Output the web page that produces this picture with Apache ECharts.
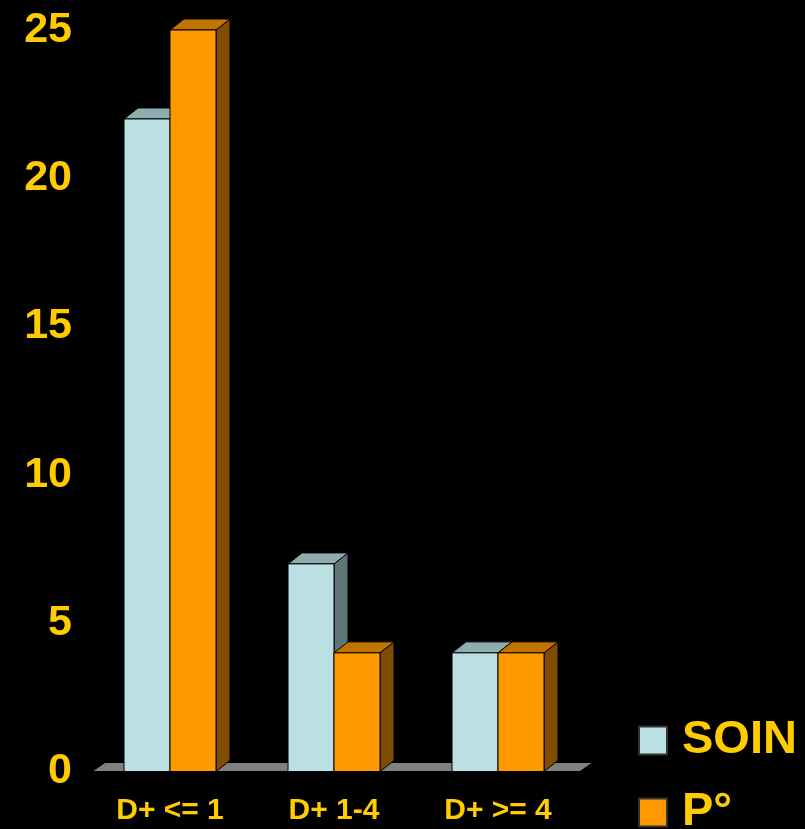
<!DOCTYPE html>
<html>
<head>
<meta charset="utf-8">
<script src="https://cdn.jsdelivr.net/npm/echarts@6/dist/echarts.min.js"></script>
<style>
  html, body { margin: 0; padding: 0; background: #000; }
  #chart { width: 805px; height: 829px; }
</style>
</head>
<body>
<div id="chart"></div>
<script>
// Category labels and values per series
const categories = ['D+ <= 1', 'D+ 1-4', 'D+ >= 4'];
const soinValues = [22, 7, 4];
const pValues = [25, 4, 4];
const seriesNames = ['SOIN', 'P°'];

const YELLOW = '#FFCC00';
const FONT = 'Liberation Sans, Arial, sans-serif';
const DEPTH_X = 14, DEPTH_Y = -11;
const BAR_FRACTION = 46 / 164;

// 3D bar: front face, top face and right side face
function bar3d(slot, colors) {
  return function (params, api) {
    const ci = api.value(0);
    const v = api.value(1);
    const base = api.coord([ci, 0]);
    const top = api.coord([ci, v]);
    const band = api.size([1, 0])[0];
    const w = band * BAR_FRACTION;
    const x0 = base[0] + (slot - 1) * w;
    const x1 = x0 + w;
    const yb = base[1];
    const yt = top[1];
    const stroke = { stroke: '#000', lineWidth: 1 };
    return {
      type: 'group',
      children: [
        { type: 'polygon', shape: { points: [[x1, yt], [x1 + DEPTH_X, yt + DEPTH_Y], [x1 + DEPTH_X, yb + DEPTH_Y], [x1, yb]] },
          style: Object.assign({ fill: colors.side }, stroke) },
        { type: 'polygon', shape: { points: [[x0, yt], [x0 + DEPTH_X, yt + DEPTH_Y], [x1 + DEPTH_X, yt + DEPTH_Y], [x1, yt]] },
          style: Object.assign({ fill: colors.top }, stroke) },
        { type: 'rect', shape: { x: x0, y: yt, width: w, height: yb - yt },
          style: Object.assign({ fill: colors.front }, stroke) }
      ]
    };
  };
}

// Grey floor under the bars
function floorItem(params, api) {
  const cs = params.coordSys;
  const y0 = api.coord([0, 0])[1];
  const xl = cs.x + 4, xr = cs.x + cs.width;
  return {
    type: 'polygon',
    shape: { points: [[xl, y0], [xr, y0], [xr + 13, y0 - 9], [xl + 13, y0 - 9]] },
    style: { fill: '#808080', stroke: '#000', lineWidth: 1 }
  };
}

const soinColors = { front: '#BBE0E3', top: '#8FACAE', side: '#5F7576' };
const pColors = { front: '#FF9900', top: '#C27400', side: '#7F4C00' };

// One legend box per series, stacked at the lower right
function legendBox(name, top) {
  return {
    data: [name],
    orient: 'vertical',
    left: 638,
    top: top,
    padding: 0,
    itemWidth: 28,
    itemHeight: 28,
    icon: 'rect',
    textStyle: { color: YELLOW, fontSize: 47, fontWeight: 'bold', fontFamily: FONT, lineHeight: 47, padding: [0, 0, 0, 10] },
    selectedMode: false
  };
}

const chart = echarts.init(document.getElementById('chart'));
chart.setOption({
  backgroundColor: '#000000',
  animation: false,
  grid: { left: 88, right: 225, top: 30, bottom: 57.5 },
  legend: [legendBox(seriesNames[0], 717), legendBox(seriesNames[1], 789)],
  xAxis: {
    type: 'category',
    data: categories,
    axisLine: { show: false },
    axisTick: { show: false },
    axisLabel: { color: YELLOW, fontSize: 30, fontWeight: 'bold', fontFamily: FONT, margin: 24 }
  },
  yAxis: {
    type: 'value',
    min: 0,
    max: 25,
    interval: 5,
    axisLine: { show: false },
    axisTick: { show: false },
    splitLine: { show: false },
    axisLabel: { color: YELLOW, fontSize: 43, fontWeight: 'bold', fontFamily: FONT, margin: 16 }
  },
  series: [
    { type: 'custom', name: 'floor', renderItem: floorItem, data: [[0, 0]], z: 1, silent: true },
    { type: 'custom', name: seriesNames[0], renderItem: bar3d(0, soinColors),
      itemStyle: { color: soinColors.front, borderColor: '#333', borderWidth: 1 },
      data: soinValues.map((v, i) => [i, v]), z: 2 },
    { type: 'custom', name: seriesNames[1], renderItem: bar3d(1, pColors),
      itemStyle: { color: pColors.front, borderColor: '#333', borderWidth: 1 },
      data: pValues.map((v, i) => [i, v]), z: 3 }
  ]
});
</script>
</body>
</html>
